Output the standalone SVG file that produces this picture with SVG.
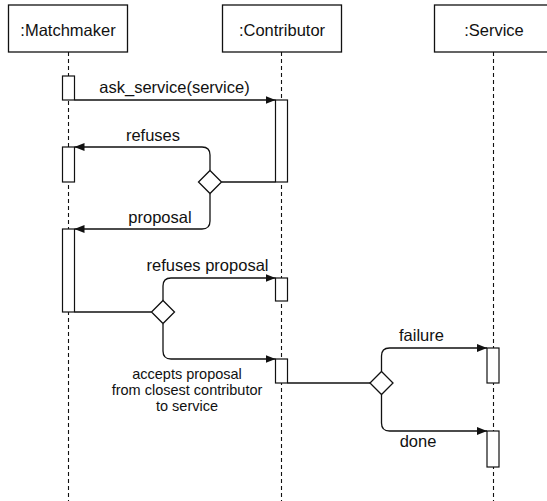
<svg xmlns="http://www.w3.org/2000/svg" width="547" height="501" viewBox="0 0 547 501">
<defs>
<style>
.box{fill:#fff;stroke:#111;stroke-width:1.3}
.act{fill:#fff;stroke:#111;stroke-width:1.2}
.life{stroke:#111;stroke-width:1.1;stroke-dasharray:4 3;fill:none}
.msg{stroke:#111;stroke-width:1.3;fill:none}
.dia{fill:#fff;stroke:#111;stroke-width:1.3}
text{font-family:"Liberation Sans",Arial,sans-serif;fill:#111;text-anchor:middle}
.t{font-size:16.5px}
.s{font-size:14.5px}
</style>
<marker id="arr" markerWidth="10" markerHeight="8" refX="10" refY="4" orient="auto" markerUnits="userSpaceOnUse">
<path d="M0,0 L10,4 L0,8 Z" fill="#111"/>
</marker>
</defs>
<rect width="547" height="501" fill="#fff"/>
<g id="lifelines">
<line class="life" x1="68.5" y1="52" x2="68.5" y2="501"/>
<line class="life" x1="281.5" y1="52" x2="281.5" y2="501"/>
<line class="life" x1="493.5" y1="52" x2="493.5" y2="501"/>
</g>
<g id="matchmaker">
<rect class="box" x="8.5" y="5" width="119" height="47"/>
<text class="t" x="68" y="36">:Matchmaker</text>
</g>
<g id="contributor">
<rect class="box" x="222.5" y="5" width="119" height="47"/>
<text class="t" x="282" y="36">:Contributor</text>
</g>
<g id="service">
<rect class="box" x="434.5" y="5" width="119" height="47"/>
<text class="t" x="494" y="36">:Service</text>
</g>
<g id="activations">
<rect class="act" x="62.5" y="76" width="12" height="24"/>
<rect class="act" x="275.5" y="100" width="12" height="82"/>
<rect class="act" x="62.5" y="147" width="12" height="35"/>
<rect class="act" x="62.5" y="229" width="12" height="83"/>
<rect class="act" x="275.5" y="278" width="12" height="23"/>
<rect class="act" x="275.5" y="359" width="12" height="24"/>
<rect class="act" x="487" y="348" width="12" height="35"/>
<rect class="act" x="487" y="431" width="12" height="36"/>
</g>
<g id="connectors">
<path class="msg" d="M74.5,100 H275.5" marker-end="url(#arr)"/>
<path class="msg" d="M275.5,182 H221.5"/>
<path class="msg" d="M210,170.5 V155 Q210,147 202,147 H74.5" marker-end="url(#arr)"/>
<path class="msg" d="M210,193.5 V221 Q210,229 202,229 H74.5" marker-end="url(#arr)"/>
<path class="msg" d="M74.5,312 H151.5"/>
<path class="msg" d="M163,301 V286 Q163,278 171,278 H275.5" marker-end="url(#arr)"/>
<path class="msg" d="M163,324 V351 Q163,359 171,359 H275.5" marker-end="url(#arr)"/>
<path class="msg" d="M287.5,383 H370"/>
<path class="msg" d="M381.5,371.5 V356 Q381.5,348 389.5,348 H487" marker-end="url(#arr)"/>
<path class="msg" d="M381.5,394.5 V423 Q381.5,431 389.5,431 H487" marker-end="url(#arr)"/>
</g>
<g id="decisions">
<path class="dia" d="M210,170.5 L221.5,182 L210,193.5 L198.5,182 Z"/>
<path class="dia" d="M163,300.5 L174.5,312 L163,323.5 L151.5,312 Z"/>
<path class="dia" d="M381.5,371.5 L393,383 L381.5,394.5 L370,383 Z"/>
</g>
<g id="labels">
<text class="t" x="174.5" y="93">ask_service(service)</text>
<text class="t" x="153" y="140.5">refuses</text>
<text class="t" x="160" y="223">proposal</text>
<text class="t" x="207.5" y="270.5">refuses proposal</text>
<text class="s" x="187" y="379">accepts proposal</text>
<text class="s" x="187" y="395">from closest contributor</text>
<text class="s" x="187" y="411">to service</text>
<text class="t" x="421.5" y="340.5">failure</text>
<text class="t" x="418" y="447">done</text>
</g>
</svg>
